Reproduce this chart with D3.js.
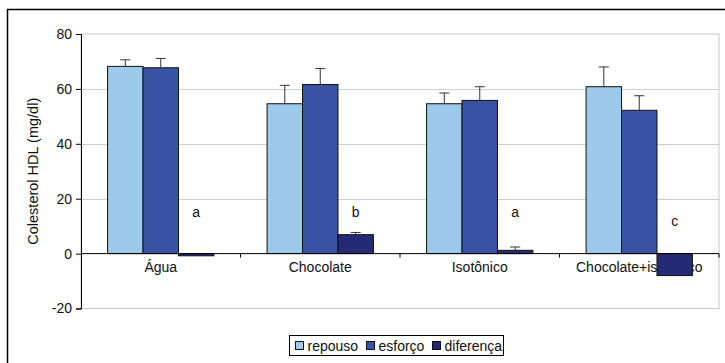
<!DOCTYPE html>
<html>
<head>
<meta charset="utf-8">
<script src="https://cdn.jsdelivr.net/npm/d3@7"></script>
<style>
  html, body { margin: 0; padding: 0; background: #fff; }
  svg { display: block; font-family: "Liberation Sans", Arial, sans-serif; }
</style>
</head>
<body>
<svg id="chart" width="725" height="363"></svg>
<script>
// Categories and series
const categories = ["Água", "Chocolate", "Isotônico", "Chocolate+isotônico"];
const seriesNames = ["repouso", "esforço", "diferença"];
const repouso = [68.2, 54.6, 54.6, 60.8];
const esforco = [67.7, 61.6, 55.8, 52.2];
const diferenca = [-0.8, 6.9, 1.2, -8.0];
const repousoErr = [2.4, 6.7, 3.9, 7.2];
const esforcoErr = [3.4, 5.8, 5.0, 5.3];
const diferencaErr = [0, 0.8, 1.2, 0];
const sigLetters = ["a", "b", "a", "c"];
const yTicks = [-20, 0, 20, 40, 60, 80];

const colors = ["#9dc9ea", "#3953a4", "#252a74"];
const values = [repouso, esforco, diferenca];
const errors = [repousoErr, esforcoErr, diferencaErr];

const svg = d3.select("#chart");
const plot = { left: 81, right: 719, top: 34, bottom: 308.5 };

const y = d3.scaleLinear().domain([-20, 80]).range([plot.bottom, plot.top]);
const x0 = d3.scaleBand().domain(categories).range([plot.left, plot.right]).paddingInner(0).paddingOuter(0);
// three bars fill 1/1.5 of each category band; the rest is the gap
const x1 = d3.scaleBand().domain(seriesNames)
  .range([x0.bandwidth() * 0.75 / 4.5, x0.bandwidth() - x0.bandwidth() * 0.75 / 4.5]);

// outer chart frame
svg.append("rect").attr("x", 7.5).attr("y", 9.5).attr("width", 730).attr("height", 370)
  .attr("fill", "none").attr("stroke", "#000").attr("stroke-width", 1.5);

// plot area frame
svg.append("rect").attr("x", plot.left).attr("y", plot.top)
  .attr("width", plot.right - plot.left).attr("height", plot.bottom - plot.top)
  .attr("fill", "none").attr("stroke", "#c8c8c8").attr("stroke-width", 1);

// gridlines
svg.append("g").selectAll("line").data(yTicks.filter(t => t !== 0 && t !== -20 && t !== 80)).join("line")
  .attr("x1", plot.left).attr("x2", plot.right)
  .attr("y1", d => Math.round(y(d)) + 0.5).attr("y2", d => Math.round(y(d)) + 0.5)
  .attr("stroke", "#cfcfcf").attr("stroke-width", 1);

// y axis
const yAxis = d3.axisLeft(y).tickValues(yTicks).tickSize(5).tickPadding(4)
  .tickFormat(d => String(d));
const gy = svg.append("g").attr("transform", `translate(${plot.left},0)`).call(yAxis);
gy.select(".domain").attr("stroke", "#000");
gy.selectAll(".tick line").attr("stroke", "#000");
gy.selectAll(".tick text").attr("font-size", 14).attr("fill", "#111")
  .attr("font-family", "Liberation Sans, Arial, sans-serif");

// category labels (drawn under the bars)
svg.append("g").selectAll("text").data(categories).join("text")
  .attr("x", d => x0(d) + x0.bandwidth() / 2)
  .attr("y", y(0) + 18)
  .attr("text-anchor", "middle").attr("font-size", 14).attr("fill", "#111")
  .text(d => d);

// y-axis title
svg.append("text")
  .attr("transform", `translate(38,${(plot.top + plot.bottom) / 2}) rotate(-90)`)
  .attr("text-anchor", "middle").attr("font-size", 14.5).attr("fill", "#111")
  .text("Colesterol HDL (mg/dl)");

// bars
const groups = svg.append("g").selectAll("g").data(categories).join("g")
  .attr("transform", d => `translate(${x0(d)},0)`);

groups.each(function (cat, ci) {
  const g = d3.select(this);
  seriesNames.forEach((s, si) => {
    const v = values[si][ci];
    g.append("rect")
      .attr("x", x1(s)).attr("width", x1.bandwidth())
      .attr("y", y(Math.max(0, v))).attr("height", Math.abs(y(v) - y(0)))
      .attr("fill", colors[si]).attr("stroke", "#111").attr("stroke-width", 1);
  });
});

// error bars (plus direction)
groups.each(function (cat, ci) {
  const g = d3.select(this);
  seriesNames.forEach((s, si) => {
    const v = values[si][ci], e = errors[si][ci];
    if (e <= 0) return;
    const cx = x1(s) + x1.bandwidth() / 2;
    g.append("line").attr("x1", cx).attr("x2", cx)
      .attr("y1", y(v)).attr("y2", y(v + e))
      .attr("stroke", "#333").attr("stroke-width", 1);
    g.append("line").attr("x1", cx - 5).attr("x2", cx + 5)
      .attr("y1", y(v + e)).attr("y2", y(v + e))
      .attr("stroke", "#333").attr("stroke-width", 1);
  });
});

// significance letters above the difference bars
const letterY = [15, 15, 15, 12];
groups.append("text")
  .attr("x", x1("diferença") + x1.bandwidth() / 2)
  .attr("y", (d, i) => y(letterY[i]) + 5)
  .attr("text-anchor", "middle").attr("font-size", 14).attr("fill", "#111")
  .text((d, i) => sigLetters[i]);

// zero baseline with category separators
svg.append("line").attr("x1", plot.left).attr("x2", plot.right)
  .attr("y1", y(0)).attr("y2", y(0)).attr("stroke", "#000").attr("stroke-width", 1);
svg.append("g").selectAll("line").data(categories).join("line")
  .attr("x1", d => x0(d) + x0.bandwidth()).attr("x2", d => x0(d) + x0.bandwidth())
  .attr("y1", y(0)).attr("y2", y(0) + 4).attr("stroke", "#000");

// legend
const legend = svg.append("g").attr("transform", "translate(289.5,335.5)");
legend.append("rect").attr("width", 214).attr("height", 20)
  .attr("fill", "#fff").attr("stroke", "#000").attr("stroke-width", 1);
const legX = [6, 77, 143];
seriesNames.forEach((s, i) => {
  legend.append("rect").attr("x", legX[i]).attr("y", 6).attr("width", 8).attr("height", 8)
    .attr("fill", colors[i]).attr("stroke", "#111").attr("stroke-width", 1);
  legend.append("text").attr("x", legX[i] + 12).attr("y", 15)
    .attr("font-size", 14).attr("fill", "#111").text(s);
});
</script>
</body>
</html>
